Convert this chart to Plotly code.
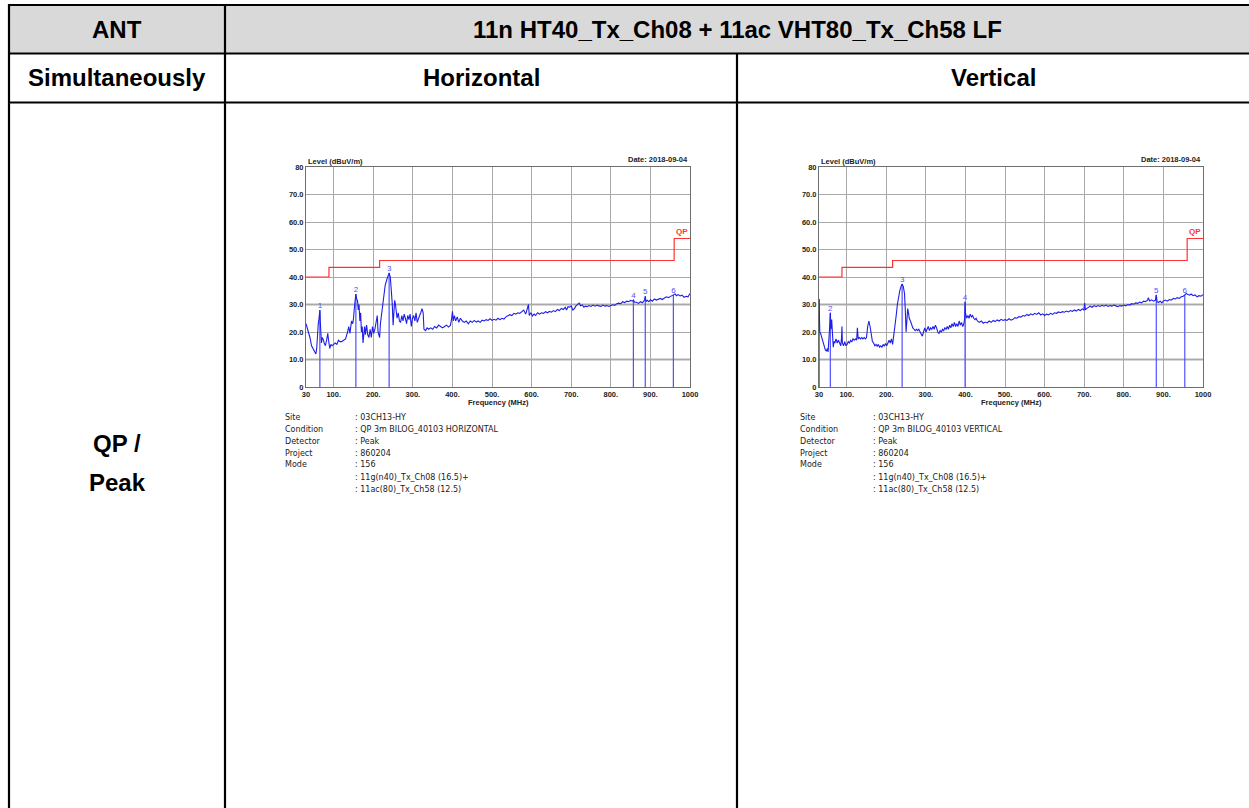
import plotly.graph_objects as go

W, H = 1249, 808

# ---------------- data ----------------
h_freq = [30, 33, 36, 40, 44, 48, 52, 55, 57, 59, 61, 63, 65, 66, 67, 69, 71, 73, 76, 79, 82, 85, 87, 90, 93, 96,
          100, 104, 108, 112, 116, 120, 125, 130, 135, 138, 141, 145, 148, 150, 153, 156, 158, 160, 162, 164, 166,
          168, 170, 172, 174, 176, 178, 180, 183, 186, 189, 192, 195, 198, 201, 204, 207, 210, 212, 214, 216, 218,
          222, 226, 230, 234, 237, 240, 243, 246, 248, 250, 252, 254, 256, 258, 260, 263, 266, 269, 272, 275, 278,
          281, 284, 287, 290, 293, 296, 299, 302, 305, 308, 311, 314, 317, 320, 323, 326, 328, 332, 336, 340, 345,
          350, 355, 360, 365, 370, 375, 380, 385, 390, 395, 398, 400, 402, 405, 408, 412, 416, 420, 425, 430, 435,
          440, 445, 450, 455, 460, 465, 470, 475, 480, 485, 490, 495, 500, 505, 510, 515, 520, 525, 530, 535, 540,
          545, 550, 555, 560, 565, 570, 575, 580, 585, 590, 592, 594, 598, 602, 606, 610, 615, 620, 625, 630, 635,
          640, 645, 650, 655, 660, 665, 670, 675, 680, 685, 688, 692, 696, 700, 704, 708, 712, 716, 720, 724, 728,
          732, 736, 740, 745, 750, 755, 760, 765, 770, 775, 780, 785, 790, 795, 800, 805, 810, 815, 820, 825, 830,
          835, 840, 845, 850, 855, 857, 860, 865, 870, 875, 880, 885, 887, 889, 892, 896, 900, 905, 910, 915, 920,
          925, 930, 935, 940, 945, 950, 955, 958, 962, 966, 970, 975, 980, 985, 990, 995, 1000]
h_level = [23, 21.5, 20, 18, 15, 14, 13, 12, 14, 22, 23, 25, 28, 24, 22, 16, 18, 17.5, 16, 15, 17, 19.5, 17, 14, 15.5, 15,
           15.5, 16, 15.5, 17, 16.5, 16.5, 17, 17.5, 20, 22, 19.5, 24, 23, 25, 30, 33.8, 32, 31.5, 28, 30, 24,
           27, 20, 22, 16, 20, 22, 19, 22.5, 19, 18, 21, 18, 22, 19.5, 21, 24, 26, 20, 19, 18, 23,
           28, 32, 37, 39, 40.5, 41.5, 40, 35, 30, 22.5, 27, 31.5, 30, 28, 25, 27, 24, 23.5, 26, 24, 26.5,
           25, 23, 26, 24.5, 26.5, 22, 25, 26, 24, 27, 23.5, 25, 26, 27, 28.5, 27, 21, 20.5, 21.5, 21, 21.5,
           21, 22, 21.5, 22.5, 22, 21.5, 22, 22.5, 21.8, 22.5, 25, 27.5, 24, 26, 24, 25.5, 23.5, 25, 24, 23.5, 24,
           23, 24, 23.5, 24.2, 23.6, 24, 23.5, 24.3, 24, 24.5, 24.2, 24.8, 24.2, 24.6, 24.3, 25, 24.5, 25, 24.7, 25.5, 26,
           26.3, 26, 26.8, 26.5, 27, 26.8, 27.5, 28, 26.5, 29, 30, 26, 27, 25.8, 26.5, 26, 27, 26.5, 27, 26.8, 27.4,
           27, 27.5, 27.2, 27.8, 27.4, 28.2, 27.8, 28.6, 28.2, 29, 28, 29.2, 29, 29.5, 28, 28.5, 29.5, 30, 30.5, 29.5, 29.8,
           29, 29.4, 29.2, 29.6, 29.3, 29.8, 29.4, 29.7, 29.5, 29.3, 29.8, 29.4, 29.6, 29.3, 29.6, 29.9, 29.7, 30.3, 30.5, 30.3, 31,
           30.7, 31.2, 31, 31.5, 31.2, 31.6, 30.8, 30.8, 30.4, 31, 30.6, 31.6, 33, 31, 31.5, 31, 31.7, 31.2, 32, 31.6, 31.8,
           32.2, 31.8, 32.4, 32.8, 32.5, 33, 33.2, 33.5, 33.8, 33.2, 33.6, 33.1, 33.4, 32.6, 33, 32.8, 34]

v_freq = [30, 31, 32, 34, 37, 40, 43, 46, 49, 51, 53, 55, 57, 58.6, 60, 62, 64, 66, 68, 70, 73, 76, 79, 82, 85, 87, 88, 89,
          92, 95, 98, 101, 104, 107, 110, 113, 116, 119, 122, 125, 127, 129, 132, 135, 138, 141, 144, 147, 150, 153,
          156, 159, 162, 165, 168, 171, 174, 177, 180, 183, 186, 189, 192, 195, 198, 201, 204, 207, 210, 213, 216,
          219, 222, 225, 228, 231, 234, 237, 240, 243, 246, 248, 250, 252, 254, 256, 258, 261, 264, 267, 270, 273,
          276, 279, 282, 285, 288, 291, 294, 297, 300, 303, 306, 309, 312, 315, 318, 321, 324, 327, 330, 333, 336,
          339, 342, 345, 348, 351, 354, 357, 360, 363, 366, 369, 372, 375, 378, 381, 384, 387, 390, 393, 396, 398,
          399, 400, 403, 406, 409, 412, 415, 418, 421, 424, 427, 430, 435, 440, 445, 450, 455, 460, 465, 470, 475,
          480, 485, 490, 495, 500, 505, 510, 515, 520, 525, 530, 535, 540, 545, 550, 555, 560, 565, 570, 575, 580,
          585, 590, 595, 600, 605, 610, 615, 620, 625, 630, 635, 640, 645, 650, 655, 660, 665, 670, 675, 680, 685,
          690, 695, 699, 701, 703, 706, 710, 715, 720, 725, 730, 735, 740, 745, 750, 755, 760, 765, 770, 775, 780,
          785, 790, 795, 800, 805, 810, 815, 820, 825, 830, 835, 840, 845, 850, 855, 860, 862, 865, 870, 875, 880,
          882, 884, 888, 892, 896, 900, 905, 910, 915, 920, 925, 930, 935, 940, 945, 950, 954, 958, 962, 966, 970,
          975, 980, 985, 990, 995, 1000]
v_level = [32, 24, 20, 19.5, 18, 16.5, 14.5, 13.5, 13, 14, 12.8, 16, 22, 27, 21, 24.5, 20, 14.5, 16.5, 16, 17.5, 16, 17, 16, 15, 18, 22, 16,
           15, 16.5, 15, 15.5, 16.5, 16, 17, 16.5, 17.5, 17, 17.5, 17, 21.5, 17.5, 18, 17.5, 18, 17.5, 18, 17.5, 18, 22,
           24, 22, 19, 16.5, 16, 15, 15.5, 14.8, 15.5, 14.5, 15, 14.5, 15.5, 14.8, 15.8, 15, 16, 17, 16, 17.5, 15.5,
           18.5, 22, 26, 30, 33, 35, 36.5, 37.5, 36.5, 34, 28, 20, 24, 28.5, 27, 25, 24, 22.5, 21.5, 21, 20.5,
           21, 20.5, 21, 20, 19.5, 18.5, 20, 21.5, 20, 21, 22, 20.5, 21.5, 21, 22, 21, 22.5, 21.5, 20, 19.5, 20.5,
           20, 21, 20.5, 21.5, 21, 22, 21, 22.5, 21.5, 23, 22, 23.5, 22, 23, 22, 24, 22.5, 23.5, 22, 23, 25,
           31, 27, 25, 26, 25, 26.5, 25.5, 26, 25, 24.5, 25, 24, 23.5, 24, 23.2, 23.6, 23.3, 24, 23.5, 24.2, 23.8,
           24.4, 24, 24.6, 24.2, 24.5, 24.2, 24.8, 24.3, 24.6, 25.2, 25, 25.6, 25.4, 26, 25.8, 26.4, 26, 26.6, 26.2, 26.8, 26.4,
           27, 26.2, 26.6, 26, 26.5, 26.2, 26.8, 26.4, 27, 26.8, 27.3, 27, 27.4, 27.2, 27.6, 27.3, 27.8, 27.5, 28, 27.6, 28.2,
           27.8, 28.4, 28, 30.5, 28, 28.5, 28.8, 29.4, 29, 29.6, 29.2, 29.6, 29.3, 29.7, 29.4, 29.8, 29.3, 29.6, 29.4, 29.8, 29.5,
           29.2, 29.6, 29.4, 29.8, 29.5, 30, 29.8, 30.3, 30.1, 30.6, 30.4, 30.9, 30.6, 31.2, 31, 31.6, 32.5, 31.3, 31.7, 31.2, 31.6,
           33.5, 31, 30.8, 31.2, 30.6, 31.3, 31.6, 31.2, 31.8, 31.6, 32.2, 32, 32.5, 32.2, 32.8, 33, 33.5, 34, 33.6, 33.4, 33.8,
           33.2, 33.5, 32.8, 33.2, 33, 33.6]

# QP limit (step line)
qp_freq = [30, 88, 88, 216, 216, 960, 960, 1000]
qp_level = [40, 40, 43.5, 43.5, 46, 46, 54, 54]

# markers
h_mk_labels = ["1", "2", "3", "4", "5", "6"]
h_mk_freq = [65, 156, 240, 857, 887, 958]
h_mk_level = [28, 33.8, 41.5, 31.6, 33, 33.5]

v_mk_labels = ["1", "2", "3", "4", "5", "6"]
v_mk_freq = [30.5, 58.6, 240, 399, 882, 954]
v_mk_level = [32, 27, 37.5, 31, 33.5, 33.5]
v_mk_show = [False, True, True, True, True, True]

y_tickvals = [0, 10, 20, 30, 40, 50, 60, 70, 80]
y_ticktext = ["0", "10.0", "20.0", "30.0", "40.0", "50.0", "60.0", "70.0", "80"]
x_tickvals = [30, 100, 200, 300, 400, 500, 600, 700, 800, 900, 1000]
x_ticktext = ["30", "100.", "200.", "300.", "400.", "500.", "600.", "700.", "800.", "900.", "1000"]

info_keys = ["Site", "Condition", "Detector", "Project", "Mode", "", ""]
h_info_vals = [": 03CH13-HY", ": QP 3m BILOG_40103 HORIZONTAL", ": Peak", ": 860204", ": 156",
               ": 11g(n40)_Tx_Ch08 (16.5)+", ": 11ac(80)_Tx_Ch58 (12.5)"]
v_info_vals = [": 03CH13-HY", ": QP 3m BILOG_40103 VERTICAL", ": Peak", ": 860204", ": 156",
               ": 11g(n40)_Tx_Ch08 (16.5)+", ": 11ac(80)_Tx_Ch58 (12.5)"]

# ---------------- helpers ----------------
def px(x):
    return x / W


def py(y):
    return 1 - y / H


TRACE_BLUE = "rgb(30,30,235)"
MARK_BLUE = "rgb(80,80,255)"
QP_RED = "rgb(255,50,50)"

fig = go.Figure()

charts = [
    dict(xa="x", ya="y", freq=h_freq, level=h_level, mk_l=h_mk_labels, mk_f=h_mk_freq, mk_v=h_mk_level,
         mk_s=[True] * 6, left=306, right=690, info=h_info_vals, info_x=283, val_x=353),
    dict(xa="x2", ya="y2", freq=v_freq, level=v_level, mk_l=v_mk_labels, mk_f=v_mk_freq, mk_v=v_mk_level,
         mk_s=v_mk_show, left=819, right=1203, info=v_info_vals, info_x=798, val_x=871),
]
TOP, BOT = 167, 387

for c in charts:
    # marker lines
    mx, my = [], []
    for f, v in zip(c["mk_f"], c["mk_v"]):
        mx += [f, f, None]
        my += [0, v, None]
    fig.add_trace(go.Scatter(x=mx, y=my, mode="lines", line=dict(color=MARK_BLUE, width=1.2),
                             xaxis=c["xa"], yaxis=c["ya"], showlegend=False, hoverinfo="skip"))
    fig.add_trace(go.Scatter(x=c["freq"], y=c["level"], mode="lines", line=dict(color=TRACE_BLUE, width=1.1),
                             xaxis=c["xa"], yaxis=c["ya"], showlegend=False))
    fig.add_trace(go.Scatter(x=qp_freq, y=qp_level, mode="lines", line=dict(color=QP_RED, width=1.2),
                             xaxis=c["xa"], yaxis=c["ya"], showlegend=False))
    lx = [f for f, s in zip(c["mk_f"], c["mk_s"]) if s]
    ly = [v for v, s in zip(c["mk_v"], c["mk_s"]) if s]
    lt = [t for t, s in zip(c["mk_l"], c["mk_s"]) if s]
    fig.add_trace(go.Scatter(x=lx, y=ly, mode="text", text=lt, textposition="top center",
                             textfont=dict(family="Liberation Sans", size=8, color=MARK_BLUE),
                             xaxis=c["xa"], yaxis=c["ya"], showlegend=False, hoverinfo="skip"))
    # QP label
    fig.add_annotation(x=1000, y=54, xref=c["xa"], yref=c["ya"], text="<b>QP</b>", showarrow=False,
                       xanchor="right", yanchor="bottom", font=dict(family="Liberation Sans", size=8, color=QP_RED))
    # thick light grid lines at 10 and 30
    for gv in [10, 30]:
        fig.add_shape(type="line", x0=30, x1=1000, y0=gv, y1=gv, xref=c["xa"], yref=c["ya"],
                      line=dict(color="rgb(215,215,215)", width=3), layer="below")
    # titles
    fig.add_annotation(x=px(c["left"]), y=py(162), xref="paper", yref="paper", text="Level (dBuV/m)",
                       showarrow=False, xanchor="left", yanchor="middle",
                       font=dict(family="Liberation Sans", size=7.5, color="#222", weight="bold"))
    fig.add_annotation(x=px(c["right"]), y=py(160), xref="paper", yref="paper", text="Date: 2018-09-04",
                       showarrow=False, xanchor="right", yanchor="middle",
                       font=dict(family="Liberation Sans", size=7.5, color="#222", weight="bold"))
    fig.add_annotation(x=px((c["left"] + c["right"]) / 2), y=py(402), xref="paper", yref="paper",
                       text="Frequency (MHz)", showarrow=False, xanchor="center", yanchor="middle",
                       font=dict(family="Liberation Sans", size=7.5, color="#222", weight="bold"))
    # info block
    for i, (k, v) in enumerate(zip(info_keys, c["info"])):
        yy = py(417 + 12 * i)
        if k:
            fig.add_annotation(x=px(c["info_x"]), y=yy, xref="paper", yref="paper", text=k, showarrow=False,
                               xanchor="left", yanchor="middle",
                               font=dict(family="DejaVu Sans", size=8, color="#222"))
        fig.add_annotation(x=px(c["val_x"]), y=yy, xref="paper", yref="paper", text=v, showarrow=False,
                           xanchor="left", yanchor="middle", font=dict(family="DejaVu Sans", size=8, color="#222"))

axis_common_x = dict(range=[30, 1000], tickvals=x_tickvals, ticktext=x_ticktext, showgrid=True,
                     gridcolor="rgb(170,170,170)", gridwidth=1, showline=True, linecolor="rgb(110,110,110)",
                     mirror=True, zeroline=False, ticks="", ticklen=0,
                     tickfont=dict(family="Liberation Sans", size=7.5, color="#222", weight="bold"))
axis_common_y = dict(range=[0, 80], tickvals=y_tickvals, ticktext=y_ticktext, showgrid=True,
                     gridcolor="rgb(170,170,170)", gridwidth=1, showline=True, linecolor="rgb(110,110,110)",
                     mirror=True, zeroline=False, ticks="", ticklen=0,
                     tickfont=dict(family="Liberation Sans", size=7.5, color="#222", weight="bold"))

fig.update_layout(
    width=W, height=H, margin=dict(l=0, r=0, t=0, b=0, pad=0, autoexpand=False),
    paper_bgcolor="white", plot_bgcolor="white",
    xaxis=dict(domain=[px(306), px(690)], anchor="y", **axis_common_x),
    yaxis=dict(domain=[py(BOT), py(TOP)], anchor="x", **axis_common_y),
    xaxis2=dict(domain=[px(819), px(1203)], anchor="y2", **axis_common_x),
    yaxis2=dict(domain=[py(BOT), py(TOP)], anchor="x2", **axis_common_y),
    showlegend=False,
)

# ---------------- table ----------------
fig.add_shape(type="rect", xref="paper", yref="paper", x0=px(9), x1=px(1249), y0=py(53), y1=py(5),
              fillcolor="rgb(217,217,217)", line=dict(width=0), layer="below")
LW = 2.2
table_lines = [
    (9, 5, 1249, 5), (9, 53.5, 1249, 53.5), (9, 102.5, 1249, 102.5),
    (9, 4, 9, 808), (225, 4, 225, 808), (737, 53.5, 737, 808),
]
for x0, y0, x1, y1 in table_lines:
    fig.add_shape(type="line", xref="paper", yref="paper", x0=px(x0), x1=px(x1), y0=py(y0), y1=py(y1),
                  line=dict(color="black", width=LW))

cell_texts = [
    ("ANT", 117, 29), ("11n HT40_Tx_Ch08 + 11ac VHT80_Tx_Ch58 LF", 737, 29),
    ("Simultaneously", 117, 78), ("Horizontal", 481, 78), ("Vertical", 993, 78),
    ("QP /", 117, 443), ("Peak", 117, 482),
]
for t, x, y in cell_texts:
    fig.add_annotation(x=px(x), y=py(y), xref="paper", yref="paper", text=t, showarrow=False,
                       xanchor="center", yanchor="middle",
                       font=dict(family="Liberation Sans", size=24, color="black", weight="bold"))

fig.write_html("out.html", config={"displayModeBar": False},
               post_script="document.body.style.margin='0px';document.body.style.overflow='hidden';")
